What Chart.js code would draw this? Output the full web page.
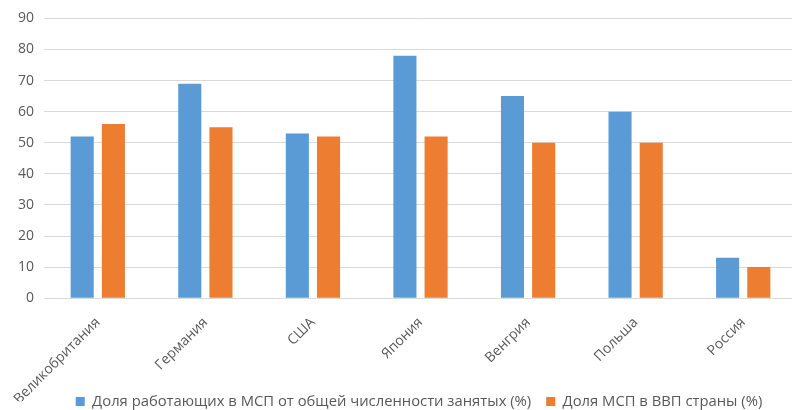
<!DOCTYPE html>
<html>
<head>
<meta charset="utf-8">
<script src="https://cdn.jsdelivr.net/npm/chart.js@4"></script>
<style>
  html, body { margin: 0; padding: 0; background: #fff; overflow: hidden; }
  #wrap { width: 836px; height: 410px; }
</style>
</head>
<body>
<div id="wrap"><canvas id="c" width="836" height="410"></canvas></div>
<script>
// Countries along the x axis
const countries = ['Великобритания', 'Германия', 'США', 'Япония', 'Венгрия', 'Польша', 'Россия'];
// Share of employees working in SMEs (%)
const employmentShare = [52, 69, 53, 78, 65, 60, 13];
// Share of SMEs in the country's GDP (%)
const gdpShare = [56, 55, 52, 52, 50, 50, 10];
// Y axis ticks
const yTicks = [0, 10, 20, 30, 40, 50, 60, 70, 80, 90];

const seriesNames = [
  'Доля работающих в МСП от общей численности занятых (%)',
  'Доля МСП в ВВП страны (%)'
];

const FONT = '"Open Sans", "Noto Sans", sans-serif';
const TEXT = '#595959';

// Move the legend a little right and up so it sits beside the slanted labels
const legendShift = {
  id: 'legendShift',
  afterUpdate(chart) {
    const lg = chart.legend;
    if (!lg) return;
    lg.left += 16.5;
    lg.right += 16.5;
    lg.top -= 22;
    lg.bottom -= 22;
    if (lg.adjustHitBoxes) lg.adjustHitBoxes();
  }
};

new Chart(document.getElementById('c'), {
  type: 'bar',
  data: {
    labels: countries,
    datasets: [
      { label: seriesNames[0], data: employmentShare, backgroundColor: '#5B9BD5',
        barPercentage: 0.74, categoryPercentage: 0.58 },
      { label: seriesNames[1], data: gdpShare, backgroundColor: '#ED7D31',
        barPercentage: 0.74, categoryPercentage: 0.58 }
    ]
  },
  plugins: [legendShift],
  options: {
    responsive: false,
    animation: false,
    layout: { padding: { left: 8, right: 39, top: 12, bottom: -31 } },
    plugins: {
      legend: {
        position: 'bottom',
        labels: { boxWidth: 9, boxHeight: 9, color: TEXT, font: { family: FONT, size: 14.8 }, padding: 15 }
      },
      tooltip: { enabled: false }
    },
    scales: {
      x: {
        grid: { display: false },
        border: { color: '#D9D9D9' },
        ticks: { color: TEXT, font: { family: FONT, size: 14 }, minRotation: 45, maxRotation: 45, padding: 8 },
        afterFit: (s) => { s.height = 103; }
      },
      y: {
        min: 0, max: 90,
        afterBuildTicks: (s) => { s.ticks = yTicks.map(v => ({ value: v })); },
        grid: { color: '#D9D9D9', drawTicks: false },
        border: { display: false },
        ticks: { color: TEXT, font: { family: FONT, size: 14 }, padding: 10 }
      }
    }
  }
});
</script>
</body>
</html>
